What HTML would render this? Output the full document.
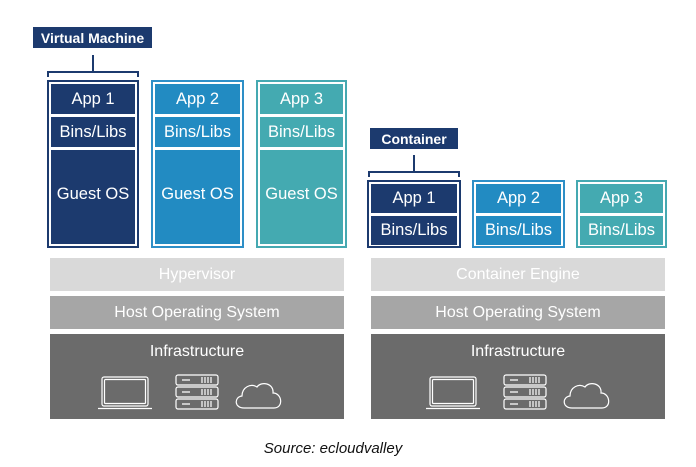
<!DOCTYPE html>
<html><head><meta charset="utf-8"><style>
body{margin:0;width:696px;height:467px;background:#fff;position:relative;overflow:hidden;font-family:"Liberation Sans",Arial,sans-serif;}
.a{position:absolute;box-sizing:border-box;}
.box{position:absolute;box-sizing:border-box;border:2px solid;background:#fff;}
.sec{position:absolute;left:2px;right:2px;color:#fff;font-size:16.5px;display:flex;align-items:center;justify-content:center;}
.bar{position:absolute;color:#fff;font-size:16px;display:flex;justify-content:center;}
.lbl{position:absolute;background:#1c3a6e;color:#fff;font-weight:bold;font-size:14px;display:flex;align-items:center;justify-content:center;}
</style></head><body>
<div class="lbl" style="left:33px;top:27px;width:119px;height:21px;">Virtual Machine</div>
<div class="a" style="left:92px;top:55px;width:2px;height:17px;background:#1c3a6e"></div>
<div class="a" style="left:47px;top:71px;width:92px;height:6px;border:2px solid #1c3a6e;border-bottom:none"></div>

<div class="box" style="left:47px;top:80px;width:92px;height:168px;border-color:#1c3a6e">
 <div class="sec" style="top:2px;height:30px;background:#1c3a6e">App 1</div>
 <div class="sec" style="top:35px;height:30px;background:#1c3a6e">Bins/Libs</div>
 <div class="sec" style="top:68px;bottom:2px;background:#1c3a6e;padding-bottom:6px">Guest OS</div>
</div>
<div class="box" style="left:151px;top:80px;width:93px;height:168px;border-color:#2e8fc7">
 <div class="sec" style="top:2px;height:30px;background:#228bc2">App 2</div>
 <div class="sec" style="top:35px;height:30px;background:#228bc2">Bins/Libs</div>
 <div class="sec" style="top:68px;bottom:2px;background:#228bc2;padding-bottom:6px">Guest OS</div>
</div>
<div class="box" style="left:256px;top:80px;width:91px;height:168px;border-color:#45a9b1">
 <div class="sec" style="top:2px;height:30px;background:#44aab1">App 3</div>
 <div class="sec" style="top:35px;height:30px;background:#44aab1">Bins/Libs</div>
 <div class="sec" style="top:68px;bottom:2px;background:#44aab1;padding-bottom:6px">Guest OS</div>
</div>

<div class="lbl" style="left:370px;top:128px;width:88px;height:21px;">Container</div>
<div class="a" style="left:413px;top:155px;width:2px;height:17px;background:#1c3a6e"></div>
<div class="a" style="left:368px;top:171px;width:92px;height:6px;border:2px solid #1c3a6e;border-bottom:none"></div>

<div class="box" style="left:367px;top:180px;width:94px;height:68px;border-color:#1c3a6e">
 <div class="sec" style="top:2px;height:29px;background:#1c3a6e">App 1</div>
 <div class="sec" style="top:34px;height:29px;background:#1c3a6e">Bins/Libs</div>
</div>
<div class="box" style="left:472px;top:180px;width:93px;height:68px;border-color:#2e8fc7">
 <div class="sec" style="top:2px;height:29px;background:#228bc2">App 2</div>
 <div class="sec" style="top:34px;height:29px;background:#228bc2">Bins/Libs</div>
</div>
<div class="box" style="left:576px;top:180px;width:91px;height:68px;border-color:#45a9b1">
 <div class="sec" style="top:2px;height:29px;background:#44aab1">App 3</div>
 <div class="sec" style="top:34px;height:29px;background:#44aab1">Bins/Libs</div>
</div>

<div class="bar" style="left:50px;top:258px;width:294px;height:33px;background:#d9d9d9;align-items:center">Hypervisor</div>
<div class="bar" style="left:50px;top:296px;width:294px;height:33px;background:#a6a6a6;align-items:center">Host Operating System</div>
<div class="bar" style="left:50px;top:334px;width:294px;height:85px;background:#6b6b6b;padding-top:9px;box-sizing:border-box">Infrastructure</div>

<div class="bar" style="left:371px;top:258px;width:294px;height:33px;background:#d9d9d9;align-items:center">Container Engine</div>
<div class="bar" style="left:371px;top:296px;width:294px;height:33px;background:#a6a6a6;align-items:center">Host Operating System</div>
<div class="bar" style="left:371px;top:334px;width:294px;height:85px;background:#6b6b6b;padding-top:9px;box-sizing:border-box">Infrastructure</div>

<svg class="a" style="left:0;top:0" width="696" height="467">
 <defs>
  <g id="ic" fill="none" stroke="#fff" stroke-width="1.2">
   <rect x="4" y="0" width="46" height="29" rx="2"/>
   <rect x="6.5" y="2.5" width="41" height="24" rx="1"/>
   <path d="M0 31.5 H54"/>
   <rect x="78" y="-2" width="42" height="10" rx="2"/>
   <rect x="78" y="10" width="42" height="10" rx="2"/>
   <rect x="78" y="22" width="42" height="10" rx="2"/>
   <path d="M84 3h8M84 15h8M84 27h8M104 0v6M107 0v6M110 0v6M113 0v6M104 12v6M107 12v6M110 12v6M113 12v6M104 24v6M107 24v6M110 24v6M113 24v6"/>
   <path d="M146 31 C136 31 136 20 144 19 C144 10 153 6 159 10 C163 4 176 6 175 16 C184 16 186 31 176 31 Z"/>
  </g>
 </defs>
 <use href="#ic" x="98" y="377"/>
 <use href="#ic" x="426" y="377"/>
</svg>

<div class="a" style="left:0;width:666px;top:440px;text-align:center;font-style:italic;font-size:15px;color:#111">Source: ecloudvalley</div>
</body></html>
